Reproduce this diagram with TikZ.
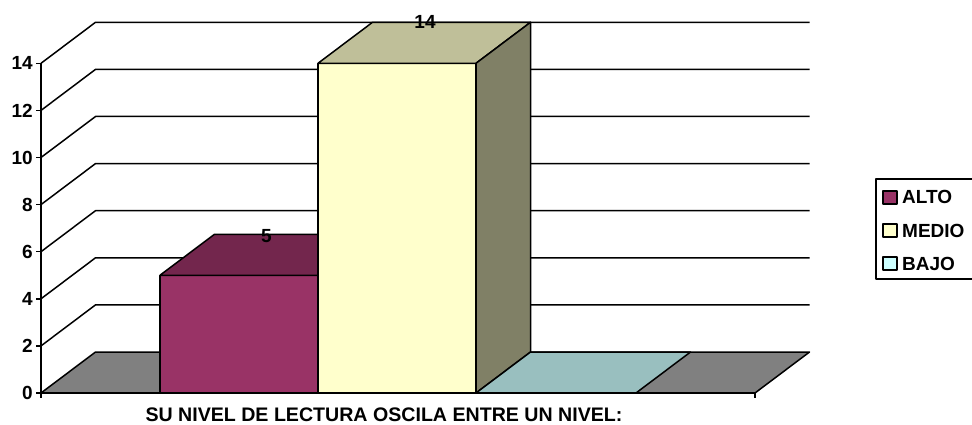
\documentclass[tikz,border=0pt]{standalone}
\usepackage{fontspec}
\setmainfont{Liberation Sans}
\definecolor{altoF}{HTML}{993366}
\definecolor{altoT}{HTML}{73264D}
\definecolor{medF}{HTML}{FFFFCC}
\definecolor{medT}{HTML}{BFBF99}
\definecolor{medS}{HTML}{808066}
\definecolor{bajoF}{HTML}{CCFFFF}
\definecolor{bajoT}{HTML}{99BFBF}
\definecolor{floorc}{HTML}{808080}
\begin{document}
\begin{tikzpicture}[x=1pt,y=-1pt,line join=round,
  face/.style={draw=black,line width=1.5pt},
  gridln/.style={draw=black,line width=1.5pt},
  lbl/.style={font=\fontsize{19}{22}\selectfont\bfseries,inner sep=0pt},
  ttl/.style={font=\fontsize{19.6}{22}\selectfont\bfseries,inner sep=0pt},
  legsq/.style={draw=black,line width=1.2pt}]
\useasboundingbox (0,0) rectangle (972,425);
\clip (0,0) rectangle (972,425);
% grid lines on side and back walls
\foreach \v in {2,4,...,14}{
  \draw[gridln] (41,{393-\v*23.55}) -- ++(54.5,-41) -- (809.5,{352-\v*23.55});
}
% floor
\draw[face,fill=floorc] (41,393) -- (755,393) -- (809.5,352) -- (95.5,352) -- cycle;
% ALTO bar
\coordinate (aFL) at (160,393);
\coordinate (aTR) at (318,275.25);
\draw[face,fill=altoF] (aFL) rectangle (aTR);
\draw[face,fill=altoT] (160,275.25) -- (318,275.25) -- (372.5,234.25) -- (214.5,234.25) -- cycle;
% MEDIO bar
\draw[face,fill=medF] (318,393) rectangle (476,63.3);
\draw[face,fill=medT] (318,63.3) -- (476,63.3) -- (530.5,22.3) -- (372.5,22.3) -- cycle;
\draw[face,fill=medS] (476,393) -- (530.5,352) -- (530.5,22.3) -- (476,63.3) -- cycle;
% BAJO bar (zero)
\draw[face,fill=bajoT] (476,393) -- (636,393) -- (690.5,352) -- (530.5,352) -- cycle;
% axes
\draw[gridln] (41,63.3) -- (41,398);
\draw[gridln] (41,393) -- (755,393) -- (755,398);
\foreach \v in {0,2,...,14}{
  \draw[gridln] (36,{393-\v*23.55}) -- (41,{393-\v*23.55});
  \node[lbl,anchor=east] (yl\v) at (33,{393-\v*23.55}) {\v};
}
% data labels
\node[lbl,anchor=base] (l5) at (266.5,242) {5};
\node[lbl,anchor=base] (l14) at (425,29) {14};
% axis title
\node[ttl,anchor=base] (title) at (384,421.5) {SU NIVEL DE LECTURA OSCILA ENTRE UN NIVEL:};
% legend
\draw[line width=1.5pt] (876,179) rectangle (995,279);
\draw[legsq,fill=altoF] (883,191) rectangle (897,204);
\node[lbl,anchor=base west] (lgA) at (902,204) {ALTO};
\draw[legsq,fill=medF] (883,224) rectangle (897,237);
\node[lbl,anchor=base west] (lgM) at (902,237) {MEDIO};
\draw[legsq,fill=bajoF] (883,257) rectangle (897,270);
\node[lbl,anchor=base west] (lgB) at (902,270) {BAJO};
\end{tikzpicture}
\end{document}
